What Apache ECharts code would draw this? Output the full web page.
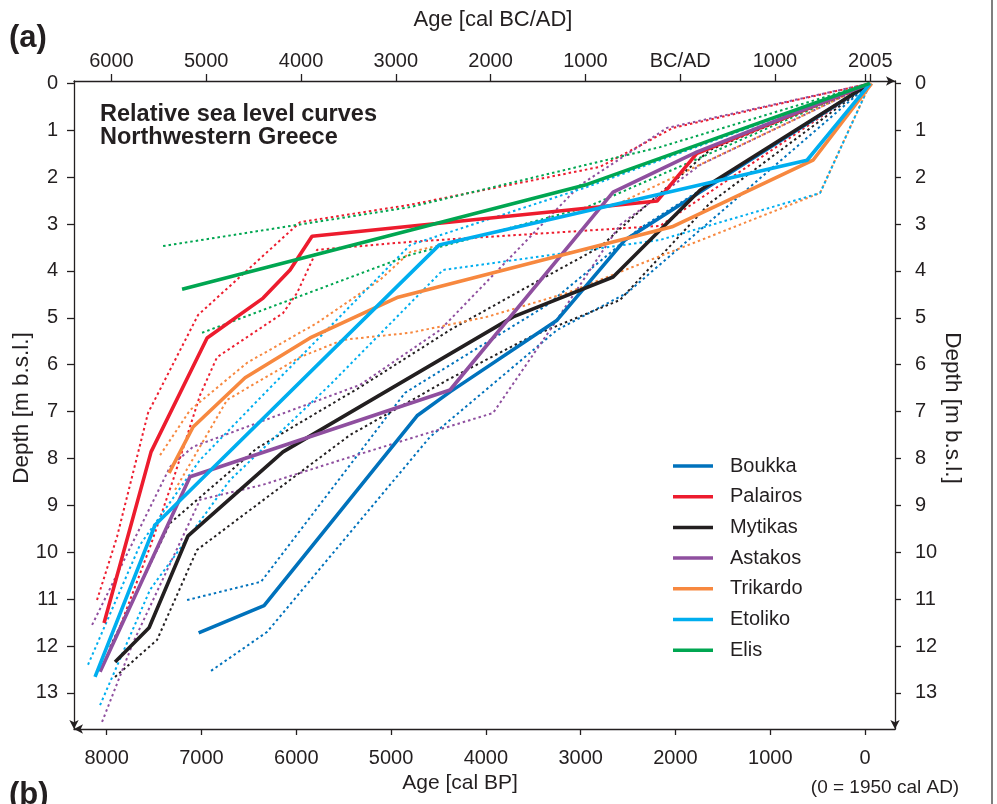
<!DOCTYPE html>
<html><head><meta charset="utf-8">
<script src="https://cdn.jsdelivr.net/npm/echarts@6/dist/echarts.min.js"></script>
<style>html,body{margin:0;padding:0;background:#fff}#c{width:997px;height:804px}</style>
</head><body><div id="c"></div>
<script>
// ---------- DATA (age in cal BP, depth in m b.s.l.) ----------
const sites = ['Boukka', 'Palairos', 'Mytikas', 'Astakos', 'Trikardo', 'Etoliko', 'Elis'];
const siteColors = ['#0072bc', '#ed1c2e', '#231f20', '#8f4f9f', '#f7883f', '#00aeef', '#00a651'];

// solid curves
const boukka   = [[7030,11.72],[6340,11.14],[4726,7.09],[4378,6.58],[3249,5.05],[2532,3.34],[-55,0]];
const palairos = [[8028,11.51],[7532,7.86],[6941,5.43],[6350,4.58],[6066,3.98],[5834,3.26],[2194,2.51],[1772,1.49],[-55,0]];
const mytikas  = [[7912,12.34],[7553,11.61],[7142,9.65],[6140,7.86],[3713,4.98],[2658,4.13],[1741,2.28],[-55,0]];
const astakos  = [[8070,12.55],[7121,8.39],[4378,6.54],[2658,2.32],[1772,1.46],[-55,0]];
const trikardo = [[7342,8.31],[7089,7.33],[6540,6.28],[5855,5.43],[4926,4.56],[2036,3.06],[549,1.64],[-70,0]];
const etoliko  = [[8123,12.66],[7490,9.42],[4494,3.45],[612,1.64],[-55,0]];
const elis     = [[7205,4.39],[2954,2.17],[-50,0]];

// upper (dotted) envelopes
const boukkaUpper   = [[7152,11.02],[6372,10.63],[4853,6.60],[3355,4.73],[2374,3.09],[-55,0]];
const palairosUpper = [[8102,11.02],[7891,9.67],[7564,7.03],[7036,4.94],[5960,2.96],[4800,2.59],[2795,1.78],[2025,0.95],[-55,0]];
const mytikasUpper  = [[7964,12.02],[7332,9.38],[6414,7.78],[5327,6.48],[4378,5.26],[3428,4.19],[2795,3.49],[2447,2.85],[1635,1.42],[-55,0]];
const astakosUpper  = [[8154,11.55],[7332,8.18],[7089,7.75],[5327,6.43],[4483,5.26],[3006,2.17],[2089,0.95],[-55,0]];
const trikardoUpper = [[7437,7.93],[7121,6.97],[6519,5.96],[5781,5.11],[5116,4.19],[4800,3.60],[2585,2.55],[-55,0]];
const etolikoUpper  = [[8197,12.40],[7648,9.84],[7015,8.03],[6382,6.71],[4800,3.45],[2933,2.21],[-55,0]];
const elisUpper     = [[7405,3.47],[4800,2.64],[2163,1.36],[-55,0]];

// lower (dotted) envelopes
const boukkaLower   = [[6899,12.53],[6308,11.70],[4589,7.54],[3249,5.26],[2511,4.47],[-55,0]];
const palairosLower = [[7912,11.87],[7543,9.89],[7300,8.46],[7015,6.65],[6836,5.84],[6140,4.90],[5992,4.47],[5781,3.55],[4800,3.38],[2163,3.04],[-55,0]];
const mytikasLower  = [[7912,12.66],[7469,11.87],[7047,9.95],[6699,9.42],[5433,7.50],[4409,6.33],[3534,5.41],[2585,4.62],[1635,2.55],[-55,0]];
const astakosLower  = [[8049,13.62],[7722,11.93],[7015,8.88],[6350,8.56],[5433,7.97],[3924,7.03],[3323,5.26],[2585,3.02],[1741,1.74],[-55,0]];
const trikardoLower = [[7279,8.67],[6730,6.75],[5960,5.84],[5507,5.47],[4800,5.32],[3988,4.98],[3144,4.47],[2268,3.77],[475,2.34],[-55,0]];
const etolikoLower  = [[8070,13.26],[7543,10.80],[6699,8.46],[5644,6.43],[4452,3.98],[2163,3.34],[475,2.34],[-55,0]];
const elisLower     = [[6994,5.32],[4800,3.66],[2933,2.64],[-55,0]];

// axes ticks
const bpTicks = [8000, 7000, 6000, 5000, 4000, 3000, 2000, 1000, 0];
const bcadTickBP = [7950, 6950, 5950, 4950, 3950, 2950, 1950, 950, 0, -55];
const bcadLabelBP = [7950, 6950, 5950, 4950, 3950, 2950, 1950, 950, -55];
const bcadLabels = ['6000', '5000', '4000', '3000', '2000', '1000', 'BC/AD', '1000', '2005'];
const depthTicks = [0, 1, 2, 3, 4, 5, 6, 7, 8, 9, 10, 11, 12, 13];

const solids = [boukka, palairos, mytikas, astakos, trikardo, etoliko, elis];
const uppers = [boukkaUpper, palairosUpper, mytikasUpper, astakosUpper, trikardoUpper, etolikoUpper, elisUpper];
const lowers = [boukkaLower, palairosLower, mytikasLower, astakosLower, trikardoLower, etolikoLower, elisLower];

// ---------- CHART ----------
const FONT = 'Liberation Sans, Arial, Helvetica, sans-serif';
const TXT = '#231f20';
const chart = echarts.init(document.getElementById('c'), null, {renderer: 'canvas'});

const series = [];
sites.forEach((s, i) => {
  [uppers[i], lowers[i]].forEach((d, k) => {
    series.push({
      name: s + (k ? ' lower' : ' upper'), type: 'line', data: d, symbol: 'none',
      xAxisIndex: 0, yAxisIndex: 0, silent: true, z: 2,
      lineStyle: {color: siteColors[i], width: 2, type: [2.5, 3]}
    });
  });
});
sites.forEach((s, i) => {
  series.push({
    name: s, type: 'line', data: solids[i], symbol: 'none',
    xAxisIndex: 0, yAxisIndex: 0, z: 3,
    itemStyle: {color: siteColors[i]},
    lineStyle: {color: siteColors[i], width: 3.6}
  });
});

const xMin = -316, xMax = 8345, yMin = -0.05, yMax = 13.77;
const axisLineStyle = {color: '#231f20', width: 1.3};
const arrow = [7, 9];

chart.setOption({
  animation: false,
  backgroundColor: '#fff',
  textStyle: {fontFamily: FONT},
  grid: {left: 74, right: 102, top: 81, bottom: 75, containLabel: false},
  xAxis: [
    {type: 'value', position: 'bottom', min: xMin, max: xMax, inverse: true,
     axisLine: {show: true, onZero: false, lineStyle: axisLineStyle, symbol: ['arrow', 'none'], symbolSize: arrow},
     axisTick: {show: true, inside: false, length: 6, lineStyle: axisLineStyle, customValues: bpTicks},
     axisLabel: {show: true, margin: 19, fontSize: 20, color: TXT, fontFamily: FONT, customValues: bpTicks,
       formatter: v => String(v)},
     splitLine: {show: false}},
    {type: 'value', position: 'top', min: xMin, max: xMax, inverse: true,
     axisLine: {show: true, onZero: false, lineStyle: axisLineStyle, symbol: ['none', 'arrow'], symbolSize: arrow},
     axisTick: {show: true, inside: false, length: 7, lineStyle: axisLineStyle, customValues: bcadTickBP},
     axisLabel: {show: true, margin: 10, fontSize: 20, color: TXT, fontFamily: FONT, customValues: bcadLabelBP,
       formatter: v => { const j = bcadLabelBP.indexOf(v); return j >= 0 ? bcadLabels[j] : ''; }},
     splitLine: {show: false}}
  ],
  yAxis: [
    {type: 'value', position: 'left', min: yMin, max: yMax, inverse: true,
     axisLine: {show: true, onZero: false, lineStyle: axisLineStyle, symbol: ['arrow', 'none'], symbolSize: arrow},
     axisTick: {show: true, inside: false, length: 7, lineStyle: axisLineStyle, customValues: depthTicks},
     axisLabel: {show: true, margin: 16, fontSize: 20, color: TXT, fontFamily: FONT, customValues: depthTicks},
     splitLine: {show: false}},
    {type: 'value', position: 'right', min: yMin, max: yMax, inverse: true,
     axisLine: {show: true, onZero: false, lineStyle: axisLineStyle, symbol: ['arrow', 'none'], symbolSize: arrow},
     axisTick: {show: true, inside: false, length: 6, lineStyle: axisLineStyle, customValues: depthTicks},
     axisLabel: {show: true, margin: 20, fontSize: 20, color: TXT, fontFamily: FONT, customValues: depthTicks},
     splitLine: {show: false}}
  ],
  legend: {
    data: sites, orient: 'vertical', left: 668, top: 451,
    itemWidth: 40, itemHeight: 3.5, itemGap: 10.7, icon: 'rect',
    textStyle: {fontSize: 20, color: TXT, fontFamily: FONT, lineHeight: 20, padding: [0, 0, 0, 12]},
    selectedMode: false
  },
  series: series,
  graphic: [
    {type: 'text', left: 9, top: 23, style: {text: '(a)', font: 'bold 31px ' + FONT, fill: TXT}},
    {type: 'text', left: 9, top: 780, style: {text: '(b)', font: 'bold 31px ' + FONT, fill: TXT}},
    {type: 'text', left: 100, top: 103, style: {text: 'Relative sea level curves\nNorthwestern Greece', font: 'bold 23.5px ' + FONT, fill: TXT, lineHeight: 23}},
    {type: 'text', x: 493, y: 20, style: {text: 'Age [cal BC/AD]', font: '22px ' + FONT, fill: TXT, align: 'center', verticalAlign: 'middle'}},
    {type: 'text', x: 460, y: 783, style: {text: 'Age [cal BP]', font: '21px ' + FONT, fill: TXT, align: 'center', verticalAlign: 'middle'}},
    {type: 'text', x: 885, y: 788, style: {text: '(0 = 1950 cal AD)', font: '19px ' + FONT, fill: TXT, align: 'center', verticalAlign: 'middle'}},
    {type: 'text', x: 22, y: 408, rotation: Math.PI / 2, style: {text: 'Depth [m b.s.l.]', font: '22.5px ' + FONT, fill: TXT, align: 'center', verticalAlign: 'middle'}},
    {type: 'text', x: 952, y: 408, rotation: -Math.PI / 2, style: {text: 'Depth [m b.s.l.]', font: '22.5px ' + FONT, fill: TXT, align: 'center', verticalAlign: 'middle'}},
    {type: 'line', shape: {x1: 992, y1: 0, x2: 992, y2: 804}, style: {stroke: '#555', lineWidth: 1.5}}
  ]
});
</script>
</body></html>
